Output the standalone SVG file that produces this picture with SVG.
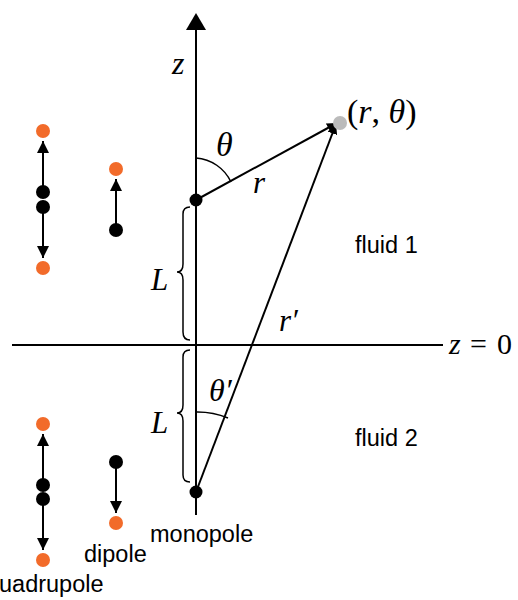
<svg xmlns="http://www.w3.org/2000/svg" width="518" height="600" viewBox="0 0 518 600">
<style>
.ln{stroke:#000;stroke-width:2;fill:none}
.thin{stroke:#000;stroke-width:1.5;fill:none}
.math{font-family:"Liberation Serif","DejaVu Serif",serif;font-style:italic;fill:#000}
.mathr{font-family:"Liberation Serif","DejaVu Serif",serif;font-style:normal;fill:#000}
.lbl{font-family:"Liberation Sans",Arial,sans-serif;font-size:23.5px;fill:#000}
.blk{fill:#000}
.org{fill:#f26b2a}
</style>
<defs>
<marker id="ah" viewBox="0 0 10 10" refX="10" refY="5" markerWidth="5" markerHeight="5" orient="auto" markerUnits="strokeWidth">
<path d="M0,0 L10,5 L0,10 z" fill="#000"/>
</marker>
<marker id="ahs" viewBox="0 0 10 10" refX="10" refY="5" markerWidth="6" markerHeight="6" orient="auto" markerUnits="strokeWidth">
<path d="M0,0 L10,5 L0,10 z" fill="#000"/>
</marker>
</defs>
<g id="connectors">
<line class="ln" x1="196" y1="515" x2="196" y2="30"/>
<path d="M186,30 L196,13 L206,30 z" fill="#000"/>
<line class="ln" x1="12" y1="345" x2="443" y2="345"/>
<line class="ln" x1="196" y1="200" x2="337" y2="123" marker-end="url(#ah)"/>
<line class="ln" x1="196" y1="492" x2="336" y2="124" marker-end="url(#ah)"/>
<path class="thin" d="M196,158 A42,42 0 0 1 231,182"/>
<path class="thin" d="M196,412 A80,80 0 0 1 228,418"/>
<path class="thin" d="M190,207 Q183,207 183,214 L183,264 Q183,272 177,272 Q183,272 183,280 L183,332 Q183,340 190,340"/>
<path class="thin" d="M190,350 Q183,350 183,357 L183,405 Q183,413 177,413 Q183,413 183,421 L183,475 Q183,482 190,482"/>
<line class="ln" x1="43" y1="192" x2="43" y2="141" marker-end="url(#ahs)"/>
<line class="ln" x1="43" y1="207" x2="43" y2="258" marker-end="url(#ahs)"/>
<line class="ln" x1="116" y1="230" x2="116" y2="179" marker-end="url(#ahs)"/>
<line class="ln" x1="43" y1="485" x2="43" y2="434" marker-end="url(#ahs)"/>
<line class="ln" x1="43" y1="499" x2="43" y2="550" marker-end="url(#ahs)"/>
<line class="ln" x1="116" y1="462" x2="116" y2="513" marker-end="url(#ahs)"/>
</g>
<g id="point-field">
<circle cx="340" cy="123" r="7" fill="#bbbbbb"/>
<text class="mathr" x="347" y="123" font-size="34">(<tspan class="math">r</tspan>, <tspan class="math">θ</tspan>)</text>
</g>
<g id="source-upper">
<circle class="blk" cx="196" cy="200" r="6.5"/>
</g>
<g id="monopole">
<circle class="blk" cx="196" cy="492" r="6.5"/>
<text class="lbl" x="150" y="542">monopole</text>
</g>
<g id="quadrupole-upper">
<circle class="org" cx="43" cy="131" r="7"/>
<circle class="blk" cx="43" cy="192" r="7"/>
<circle class="blk" cx="43" cy="207" r="7"/>
<circle class="org" cx="43" cy="268" r="7"/>
</g>
<g id="dipole-upper">
<circle class="org" cx="116" cy="169" r="7"/>
<circle class="blk" cx="116" cy="230" r="7"/>
</g>
<g id="quadrupole-lower">
<circle class="org" cx="43" cy="424" r="7"/>
<circle class="blk" cx="43" cy="485" r="7"/>
<circle class="blk" cx="43" cy="499" r="7"/>
<circle class="org" cx="43" cy="560" r="7"/>
<text class="lbl" x="-1" y="592">uadrupole</text>
</g>
<g id="dipole-lower">
<circle class="blk" cx="116" cy="462" r="7"/>
<circle class="org" cx="116" cy="523" r="7"/>
<text class="lbl" x="84" y="562">dipole</text>
</g>
<g id="labels">
<text class="math" x="172" y="74" font-size="32">z</text>
<text class="math" x="216" y="156" font-size="34">θ</text>
<text class="math" x="253" y="193" font-size="31">r</text>
<text class="math" x="279" y="331" font-size="31">r′</text>
<text class="math" x="209" y="401" font-size="32">θ′</text>
<text class="math" x="151" y="290" font-size="31">L</text>
<text class="math" x="151" y="433" font-size="31">L</text>
<text class="math" x="449" y="354" font-size="30">z<tspan class="mathr" x="470">=</tspan><tspan class="mathr" x="497">0</tspan></text>
<text class="lbl" x="355" y="253">fluid 1</text>
<text class="lbl" x="355" y="446">fluid 2</text>
</g>
</svg>
